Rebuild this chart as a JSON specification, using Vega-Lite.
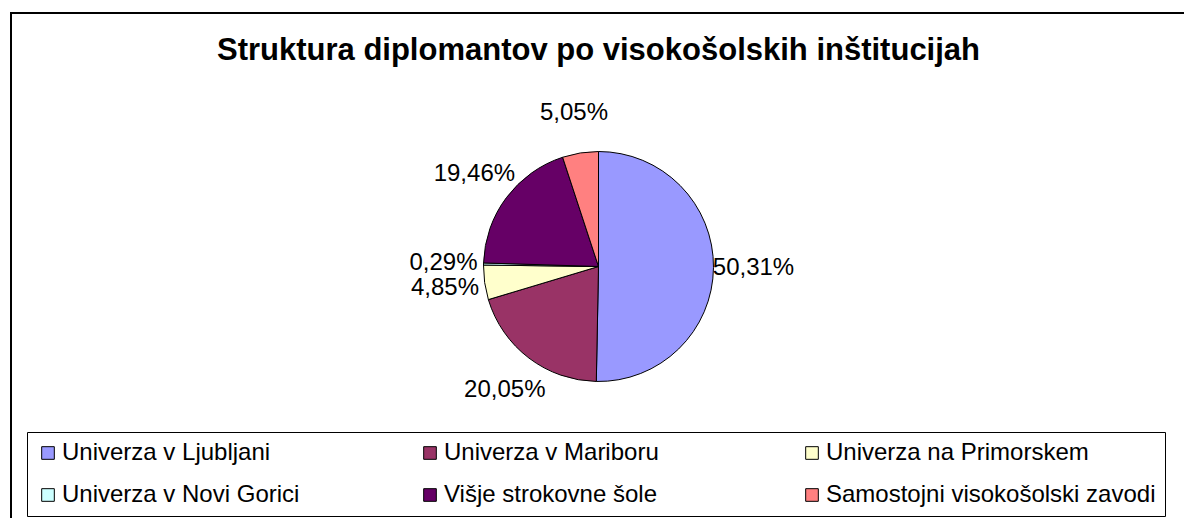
{
  "$schema": "https://vega.github.io/schema/vega-lite/v6.json",
  "width": 1184,
  "height": 518,
  "autosize": {"type": "fit", "contains": "padding"},
  "padding": {"left": 10, "top": 12, "right": -3, "bottom": -3},
  "background": "white",
  "title": {
    "text": "Struktura diplomantov po visokošolskih inštitucijah",
    "anchor": "middle",
    "frame": "group",
    "baseline": "top",
    "offset": -28,
    "dy": 27,
    "font": "Liberation Sans",
    "fontSize": 31,
    "fontWeight": "bold",
    "color": "black"
  },
  "config": {
    "view": {"stroke": null},
    "font": "Liberation Sans"
  },
  "data": {
    "values": [
      {"institucija": "Univerza v Ljubljani", "delez": 50.31, "oznaka": "50,31%", "zap": 1},
      {"institucija": "Univerza v Mariboru", "delez": 20.05, "oznaka": "20,05%", "zap": 2},
      {"institucija": "Univerza na Primorskem", "delez": 4.85, "oznaka": "4,85%", "zap": 3},
      {"institucija": "Univerza v Novi Gorici", "delez": 0.29, "oznaka": "0,29%", "zap": 4},
      {"institucija": "Višje strokovne šole", "delez": 19.46, "oznaka": "19,46%", "zap": 5},
      {"institucija": "Samostojni visokošolski zavodi", "delez": 5.05, "oznaka": "5,05%", "zap": 6}
    ]
  },
  "layer": [
    {
      "mark": {"type": "rect", "fill": "transparent", "stroke": "black", "strokeWidth": 2},
      "encoding": {
        "x": {"value": 0},
        "x2": {"value": "width"},
        "y": {"value": 0},
        "y2": {"value": "height"}
      }
    },
    {
      "mark": {"type": "arc", "outerRadius": 115, "stroke": "black", "strokeWidth": 1},
      "encoding": {
        "theta": {"field": "delez", "type": "quantitative", "stack": true},
        "order": {"field": "zap", "type": "quantitative"},
        "color": {
          "field": "institucija",
          "type": "nominal",
          "sort": ["Univerza v Ljubljani", "Univerza v Mariboru", "Univerza na Primorskem", "Univerza v Novi Gorici", "Višje strokovne šole", "Samostojni visokošolski zavodi"],
          "scale": {
            "domain": ["Univerza v Ljubljani", "Univerza v Mariboru", "Univerza na Primorskem", "Univerza v Novi Gorici", "Višje strokovne šole", "Samostojni visokošolski zavodi"],
            "range": ["#9999FF", "#993366", "#FFFFCC", "#CCFFFF", "#660066", "#FF8080"]
          },
          "legend": {
            "orient": "none",
            "legendX": 16,
            "legendY": 419,
            "direction": "horizontal",
            "columns": 3,
            "gridAlign": "all",
            "title": null,
            "symbolType": "square",
            "symbolSize": 160,
            "symbolStrokeColor": "black",
            "symbolStrokeWidth": 1,
            "symbolOpacity": 1,
            "labelFont": "Liberation Sans",
            "labelFontSize": 24,
            "labelColor": "black",
            "labelLimit": 600,
            "labelOffset": 2,
            "columnPadding": 26,
            "rowPadding": 18,
            "strokeColor": "black",
            "padding": 9
          }
        }
      }
    },
    {
      "mark": {"type": "text", "radius": 155, "font": "Liberation Sans", "fontSize": 24, "color": "black"},
      "encoding": {
        "theta": {"field": "delez", "type": "quantitative", "stack": true},
        "order": {"field": "zap", "type": "quantitative"},
        "text": {"field": "oznaka", "type": "nominal"}
      }
    }
  ]
}
